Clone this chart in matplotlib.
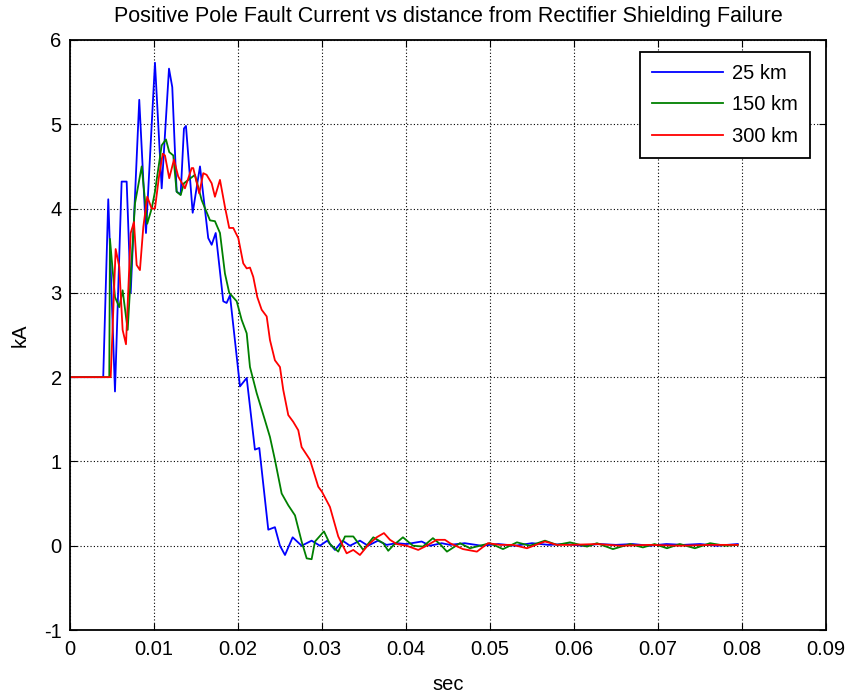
import matplotlib.pyplot as plt
from matplotlib.ticker import FixedLocator, FixedFormatter

plt.rcParams['font.family'] = ['Liberation Sans', 'DejaVu Sans']
plt.rcParams['axes.unicode_minus'] = False

# time (s) and current (kA)
t_25 = [0, 0.00396, 0.00456, 0.00536, 0.00615, 0.00675, 0.00723, 0.00825, 0.00905,
        0.01012, 0.01092, 0.01179, 0.01218, 0.01270, 0.01318, 0.01357, 0.01381, 0.01461,
        0.01548, 0.01646, 0.01687, 0.01735, 0.01825, 0.01865, 0.01905, 0.02024, 0.02104,
        0.02202, 0.02254, 0.02361, 0.02440, 0.02500, 0.02560, 0.02651, 0.02758, 0.02877,
        0.02976, 0.03063, 0.03155, 0.03246, 0.03333, 0.03452, 0.03548, 0.03667, 0.03770,
        0.03889, 0.04008, 0.04187, 0.04286, 0.04425, 0.04524, 0.0470, 0.0490, 0.0510,
        0.0530, 0.0550, 0.0570, 0.0590, 0.0610, 0.0630, 0.0650, 0.0670, 0.0690, 0.0710,
        0.0730, 0.0750, 0.0770, 0.0795]
i_25 = [2.0, 2.0, 4.11, 1.83, 4.32, 4.32, 3.0, 5.29, 3.71,
        5.73, 4.24, 5.66, 5.44, 4.2, 4.17, 4.95, 4.98, 3.95,
        4.5, 3.65, 3.57, 3.71, 2.9, 2.88, 2.97, 1.89, 1.99,
        1.14, 1.16, 0.19, 0.22, 0.0, -0.11, 0.10, 0.0, 0.06,
        0.0, 0.06, -0.05, 0.06, 0.0, 0.06, 0.0, 0.06, 0.01,
        0.03, 0.02, 0.05, 0.0, 0.03, 0.01, 0.03, 0.0, 0.02,
        0.0, 0.03, 0.01, 0.02, 0.0, 0.02, 0.01, 0.02, 0.0, 0.02,
        0.01, 0.02, 0.0, 0.02]

t_150 = [0, 0.00468, 0.00476, 0.00536, 0.00587, 0.00627, 0.00687, 0.00774, 0.00854,
         0.00920, 0.00973, 0.01012, 0.01092, 0.01143, 0.01182, 0.01230, 0.01270, 0.01318,
         0.01357, 0.01488, 0.01568, 0.01667, 0.01726, 0.01786, 0.01845, 0.01896, 0.01985,
         0.02044, 0.02104, 0.02143, 0.02223, 0.02321, 0.02381, 0.02440, 0.02520, 0.02599,
         0.02679, 0.02758, 0.02818, 0.02877, 0.02917, 0.03024, 0.03095, 0.03194, 0.03274,
         0.03373, 0.03492, 0.03611, 0.03730, 0.03789, 0.03845, 0.03964, 0.04083, 0.04202,
         0.04321, 0.04405, 0.04488, 0.04643, 0.04762, 0.0500, 0.05155, 0.05321, 0.05476,
         0.05655, 0.05798, 0.05952, 0.06155, 0.06274, 0.06464, 0.06667, 0.06821, 0.0696,
         0.07107, 0.0726, 0.0744, 0.0762, 0.0780, 0.0795]
i_150 = [2.0, 2.0, 3.64, 2.95, 2.83, 3.03, 2.56, 4.06, 4.5,
         3.82, 4.0, 4.2, 4.75, 4.82, 4.67, 4.63, 4.2, 4.16,
         4.3, 4.4, 4.1, 3.86, 3.85, 3.71, 3.23, 3.0, 2.9,
         2.68, 2.52, 2.12, 1.81, 1.49, 1.29, 1.02, 0.62, 0.48,
         0.36, 0.05, -0.15, -0.16, 0.05, 0.17, 0.02, -0.07, 0.11,
         0.11, -0.05, 0.10, 0.03, -0.06, 0.0, 0.10, 0.0, -0.01,
         0.09, 0.02, -0.07, 0.03, -0.03, 0.03, -0.04, 0.04, 0.0,
         0.06, 0.01, 0.04, -0.01, 0.03, -0.04, 0.02, -0.02, 0.02,
         -0.03, 0.02, -0.03, 0.03, 0.0, 0.01]

t_300 = [0, 0.00485, 0.00544, 0.00587, 0.00627, 0.00667, 0.00723, 0.00762, 0.00794,
         0.00833, 0.00873, 0.00920, 0.00973, 0.01012, 0.01060, 0.01104, 0.01131, 0.01182,
         0.01238, 0.01289, 0.01369, 0.01449, 0.01468, 0.01539, 0.01587, 0.01627, 0.01687,
         0.01726, 0.01786, 0.01845, 0.01896, 0.01944, 0.02004, 0.02063, 0.02104, 0.02143,
         0.02182, 0.02230, 0.02282, 0.02342, 0.02381, 0.02440, 0.02500, 0.02539, 0.02599,
         0.02658, 0.02718, 0.02758, 0.02857, 0.02956, 0.0300, 0.03095, 0.03194, 0.03294,
         0.03373, 0.03452, 0.03551, 0.03651, 0.03738, 0.03810, 0.03889, 0.04008, 0.04146,
         0.04246, 0.04365, 0.04464, 0.04524, 0.04679, 0.04845, 0.04976, 0.05119, 0.05274,
         0.05440, 0.05655, 0.05798, 0.05952, 0.06274, 0.0655, 0.0690, 0.0726, 0.0762, 0.0795]
i_300 = [2.0, 2.0, 3.52, 3.31, 2.56, 2.39, 3.71, 3.84, 3.33,
         3.27, 3.78, 4.14, 4.0, 4.0, 4.38, 4.65, 4.63, 4.36,
         4.58, 4.38, 4.24, 4.48, 4.48, 4.18, 4.42, 4.4, 4.3,
         4.14, 4.34, 4.02, 3.77, 3.77, 3.65, 3.35, 3.29, 3.3,
         3.19, 2.95, 2.8, 2.72, 2.44, 2.2, 2.12, 1.85, 1.55,
         1.47, 1.37, 1.17, 1.02, 0.70, 0.64, 0.46, 0.11, -0.09,
         -0.05, -0.11, 0.01, 0.10, 0.15, 0.07, 0.02, 0.0, -0.05,
         0.0, 0.07, 0.07, 0.03, -0.04, -0.07, 0.03, 0.01, 0.01,
         -0.03, 0.05, 0.01, 0.01, 0.02, 0.0, 0.01, 0.0, 0.01, 0.01]

labels = ['25 km', '150 km', '300 km']
colors = ['#0000ff', '#008000', '#ff0000']

x_ticks = [0, 0.01, 0.02, 0.03, 0.04, 0.05, 0.06, 0.07, 0.08, 0.09]
x_tick_labels = ['0', '0.01', '0.02', '0.03', '0.04', '0.05', '0.06', '0.07', '0.08', '0.09']
y_ticks = [-1, 0, 1, 2, 3, 4, 5, 6]

fig = plt.figure(figsize=(8.48, 6.94), dpi=100)
ax = fig.add_axes([0.0825, 0.0922, 0.8915, 0.8502])

for t, i, lab, c in zip([t_25, t_150, t_300], [i_25, i_150, i_300], labels, colors):
    ax.plot(t, i, color=c, linewidth=1.3, label=lab)

ax.set_xlim(0, 0.09)
ax.set_ylim(-1, 6)
ax.xaxis.set_major_locator(FixedLocator(x_ticks))
ax.xaxis.set_major_formatter(FixedFormatter(x_tick_labels))
ax.set_yticks(y_ticks)
ax.tick_params(direction='in', top=True, right=True, labelsize=14.5, length=5, pad=7)
ax.tick_params(axis='y', pad=6)
ax.grid(True, color='black', linestyle=(0, (1, 2)), linewidth=0.8)
for s in ax.spines.values():
    s.set_linewidth(1.3)

ax.set_title('Positive Pole Fault Current vs distance from Rectifier Shielding Failure',
             fontsize=15.5, pad=13)
ax.set_xlabel('sec', fontsize=14.5, labelpad=12)
ax.set_ylabel('kA', fontsize=14.5, labelpad=10)

leg = ax.legend(loc='upper right', bbox_to_anchor=(0.979, 0.98), fontsize=14.5,
                fancybox=False, framealpha=1, edgecolor='black', borderaxespad=0,
                handlelength=3.5, handletextpad=0.45, labelspacing=0.62, borderpad=0.6)
leg.get_frame().set_linewidth(1.3)

fig.savefig('out.png', dpi=100)
